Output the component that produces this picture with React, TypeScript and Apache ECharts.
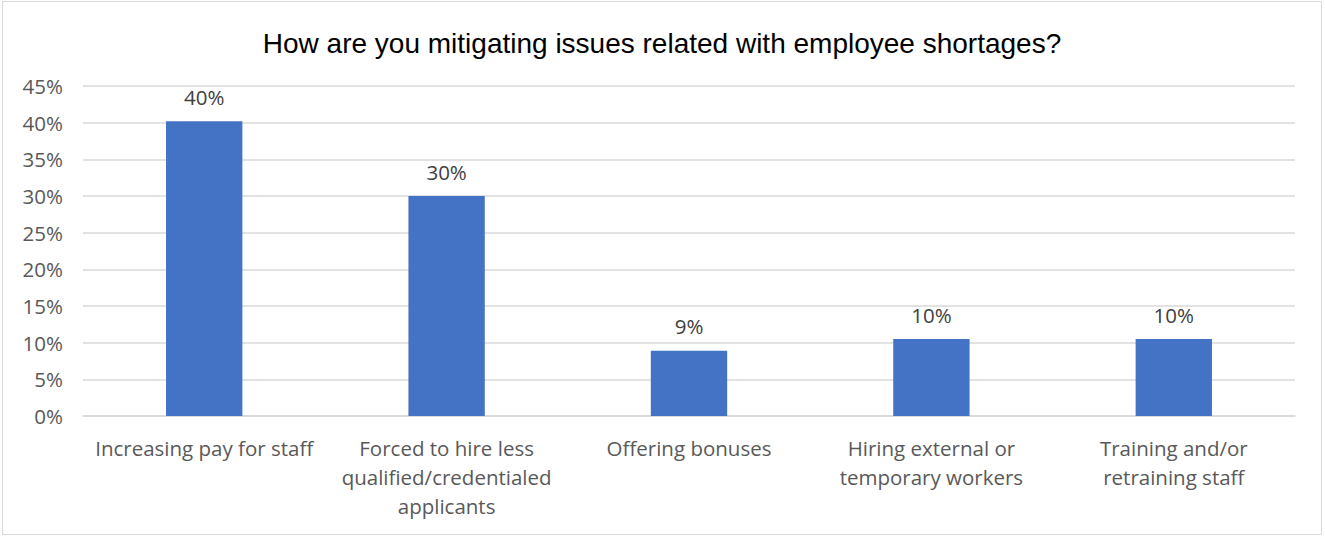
import React, { useEffect, useRef } from "react";
import * as echarts from "echarts";

const titleText = "How are you mitigating issues related with employee shortages?";
const categories = [
  "Increasing pay for staff",
  "Forced to hire less\nqualified/credentialed\napplicants",
  "Offering bonuses",
  "Hiring external or\ntemporary workers",
  "Training and/or\nretraining staff",
];
const values = [40.2, 30.0, 8.9, 10.5, 10.5];
const labelTexts = ["40%", "30%", "9%", "10%", "10%"];

export default function App() {
  const ref = useRef<HTMLDivElement>(null);
  useEffect(() => {
    if (!ref.current) return;
    const chart = echarts.init(ref.current, null, { renderer: "svg" });
    const font = "Open Sans";
    const fs = 20.5;
    chart.setOption({
      animation: false,
      backgroundColor: "#ffffff",
      title: {
        text: titleText,
        left: "center",
        top: 22,
        textStyle: {
          fontFamily: "Liberation Sans",
          fontSize: 28,
          fontWeight: "normal",
          color: "#000000",
        },
      },
      grid: { left: 80, right: 26, top: 84, bottom: 118, containLabel: false },
      xAxis: {
        type: "category",
        data: categories,
        axisTick: { show: false },
        axisLine: { show: true, lineStyle: { color: "#d9d9d9", width: 1.5 } },
        axisLabel: {
          interval: 0,
          margin: 17,
          color: "#595959",
          fontFamily: font,
          fontSize: fs,
          lineHeight: 29,
        },
      },
      yAxis: {
        type: "value",
        min: 0,
        max: 45,
        interval: 5,
        axisLine: { show: false },
        axisTick: { show: false },
        splitLine: { lineStyle: { color: "#d9d9d9", width: 1.5 } },
        axisLabel: {
          formatter: "{value}%",
          margin: 20,
          color: "#595959",
          fontFamily: font,
          fontSize: fs,
        },
      },
      series: [
        {
          type: "bar",
          data: values,
          barWidth: "31.5%",
          itemStyle: { color: "#4472C4" },
          label: {
            show: true,
            position: "top",
            distance: 14,
            color: "#404040",
            fontFamily: font,
            fontSize: fs,
            formatter: (p: any) => labelTexts[p.dataIndex],
          },
        },
      ],
    });
    return () => chart.dispose();
  }, []);
  return (
    <div
      style={{
        position: "fixed",
        left: 0,
        top: 0,
        width: 1325,
        height: 537,
        background: "#fff",
      }}
    >
      <div
        ref={ref}
        style={{
          position: "absolute",
          left: 2,
          top: 1,
          width: 1320,
          height: 534,
          border: "1px solid #d9d9d9",
          boxSizing: "border-box",
        }}
      />
    </div>
  );
}
